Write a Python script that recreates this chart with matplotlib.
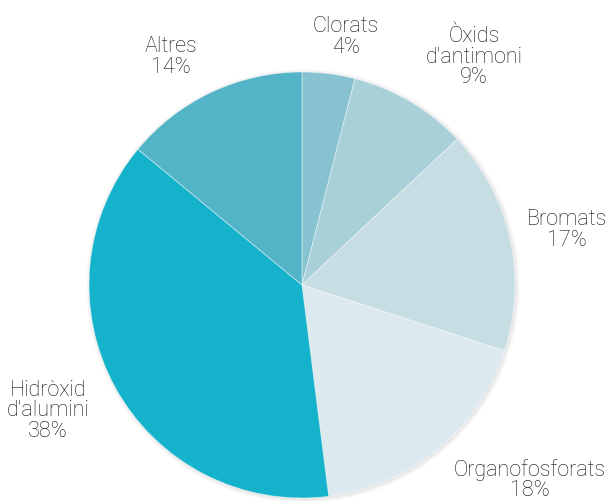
import matplotlib
matplotlib.use('Agg')
import matplotlib.pyplot as plt
from matplotlib.patches import Circle

W, H = 613, 501

labels = ['Clorats', "Òxids\nd'antimoni", 'Bromats', 'Organofosforats',
          "Hidròxid\nd'alumini", 'Altres']
shares = [4, 9, 17, 18, 38, 14]
colors = ['#86c2d0', '#a9cfd9', '#c7dde4', '#dce9ef', '#14b2cb', '#53b4c8']
label_pos = [(346, 37), (474, 57), (567, 230), (530, 480), (48, 411), (171, 57)]

plt.rcParams['font.family'] = ['Roboto', 'DejaVu Sans']

fig = plt.figure(figsize=(W / 100, H / 100), dpi=100)
ax = fig.add_axes([0, 0, 1, 1])

cx, cy, r = 302, H - 285, 213

# soft shadow round the rim
for i, a in enumerate([0.05, 0.04, 0.03, 0.02]):
    ax.add_patch(Circle((cx + 1, cy - 1), r + 1 + i, color='#606060', alpha=a, lw=0, zorder=0))

wedges, _ = ax.pie(shares, colors=colors, startangle=90, counterclock=False,
                   center=(cx, cy), radius=r,
                   wedgeprops=dict(linewidth=0.6, edgecolor=(1, 1, 1, 0.5)))
for w in wedges:
    w.set_zorder(1)

for lab, val, (x, y) in zip(labels, shares, label_pos):
    ax.text(x, H - y, f'{lab}\n{val}%', ha='center', va='center', fontsize=15.5,
            fontweight='light', color='#111111', linespacing=0.95)

ax.set_xlim(0, W)
ax.set_ylim(0, H)
ax.set_aspect('auto')
ax.axis('off')

fig.savefig('out.png', dpi=100)
